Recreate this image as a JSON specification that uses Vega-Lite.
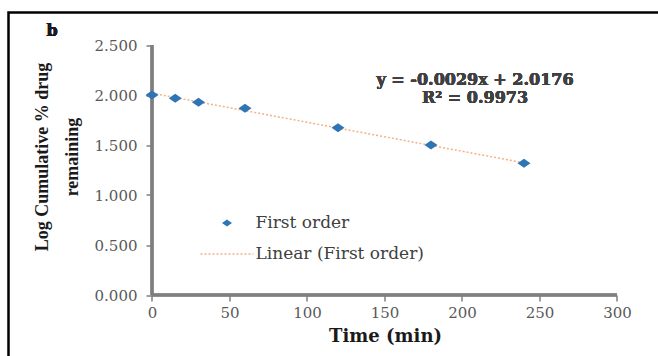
{
  "$schema": "https://vega.github.io/schema/vega-lite/v6.json",
  "width": 660,
  "height": 350,
  "autosize": {"type": "none"},
  "padding": {"left": 8.5, "top": 12.5, "right": 0, "bottom": 0},
  "background": "white",
  "datasets": {
    "release": [
      {"time": 0, "logval": 2.000},
      {"time": 15, "logval": 1.967},
      {"time": 30, "logval": 1.927},
      {"time": 60, "logval": 1.867},
      {"time": 120, "logval": 1.673},
      {"time": 180, "logval": 1.500},
      {"time": 240, "logval": 1.317}
    ],
    "trend": [
      {"time": 0, "logval": 2.0176},
      {"time": 240, "logval": 1.3216}
    ]
  },
  "config": {
    "view": {"stroke": "#000000", "strokeWidth": 2.5},
    "axis": {
      "domain": false,
      "grid": false,
      "ticks": true,
      "tickColor": "#7f7f7f",
      "tickWidth": 1.5,
      "tickSize": 6,
      "labelFont": "DejaVu Serif",
      "labelFontSize": 15,
      "labelColor": "#595959",
      "titleFont": "DejaVu Serif",
      "titleFontWeight": "bold",
      "titleColor": "#1a1a1a"
    },
    "axisX": {
      "offset": -67.5,
      "labelPadding": 4,
      "titleFontSize": 18,
      "titleX": 376.5,
      "titleY": 41,
      "titleBaseline": "middle",
      "titleAlign": "center"
    },
    "axisY": {
      "offset": -143.5,
      "labelPadding": 9,
      "titleFont": "Liberation Serif",
      "titleFontSize": 18,
      "titleX": -110,
      "titleY": 144,
      "titleAlign": "center",
      "titleBaseline": "middle",
      "titleLineHeight": 30
    },
    "legend": {
      "orient": "none",
      "legendX": 211.5,
      "legendY": 202,
      "title": null,
      "padding": 0,
      "labelFont": "DejaVu Serif",
      "labelFontSize": 17,
      "labelColor": "#404040",
      "labelLimit": 0
    }
  },
  "layer": [
    {
      "data": {"name": "release"},
      "mark": {"type": "rule", "color": "#7f7f7f", "strokeWidth": 2.5},
      "encoding": {
        "x": {"datum": 0, "type": "quantitative", "scale": {"domain": [-92.58, 333.23], "nice": false, "zero": false}},
        "y": {"datum": 0, "type": "quantitative", "scale": {"domain": [-0.675, 2.825], "nice": false, "zero": false}},
        "y2": {"datum": 2.5}
      }
    },
    {
      "data": {"name": "release"},
      "mark": {"type": "rule", "color": "#7f7f7f", "strokeWidth": 2.5},
      "encoding": {
        "x": {"datum": 0, "type": "quantitative", "scale": {"domain": [-92.58, 333.23], "nice": false, "zero": false}},
        "x2": {"datum": 300},
        "y": {"datum": 0, "type": "quantitative", "scale": {"domain": [-0.675, 2.825], "nice": false, "zero": false}}
      }
    },
    {
      "data": {"name": "trend"},
      "mark": {"type": "line", "strokeWidth": 1.5, "strokeDash": [2, 2]},
      "encoding": {
        "x": {"field": "time", "type": "quantitative", "scale": {"domain": [-92.58, 333.23], "nice": false, "zero": false}},
        "y": {"field": "logval", "type": "quantitative", "scale": {"domain": [-0.675, 2.825], "nice": false, "zero": false}},
        "color": {
          "datum": "Linear (First order)", "type": "nominal",
          "scale": {"domain": ["First order", "Linear (First order)"], "range": ["#2e75b6", "#f4b183"]},
          "legend": {
            "orient": "none",
            "legendX": 210,
            "legendY": 202,
            "title": null,
            "padding": 0,
            "labelFont": "DejaVu Serif",
            "labelFontSize": 17,
            "labelColor": "#404040",
            "labelOffset": 20,
            "labelLimit": 0,
            "rowPadding": 13,
            "symbolSize": 100,
            "encode": {
              "symbols": {
                "update": {
                  "shape": {"signal": "datum.value === 'First order' ? 'M-1,0L0,-0.7L1,0L0,0.7Z' : 'M-5.3,0L5.3,0'"},
                  "fill": {"signal": "datum.value === 'First order' ? '#2e75b6' : 'transparent'"},
                  "stroke": {"signal": "datum.value === 'First order' ? '#2e75b6' : '#f4b183'"},
                  "strokeDash": {"signal": "datum.value === 'First order' ? [1, 0] : [2, 2]"},
                  "strokeWidth": {"signal": "datum.value === 'First order' ? 0 : 1.5"},
                  "size": {"value": 100},
                  "opacity": {"value": 1}
                }
              }
            }
          }
        }
      }
    },
    {
      "data": {"name": "release"},
      "mark": {"type": "point", "filled": true, "opacity": 1, "shape": "M-1,0L0,-0.7L1,0L0,0.7Z", "size": 169},
      "encoding": {
        "x": {
          "field": "time", "type": "quantitative",
          "scale": {"domain": [-92.58, 333.23], "nice": false, "zero": false},
          "axis": {"values": [0, 50, 100, 150, 200, 250, 300], "title": "Time (min)"}
        },
        "y": {
          "field": "logval", "type": "quantitative",
          "scale": {"domain": [-0.675, 2.825], "nice": false, "zero": false},
          "axis": {"values": [0, 0.5, 1, 1.5, 2, 2.5], "format": ".3f", "title": ["Log Cumulative % drug", "remaining"]}
        },
        "color": {
          "datum": "First order", "type": "nominal",
          "scale": {"domain": ["First order", "Linear (First order)"], "range": ["#2e75b6", "#f4b183"]},
          "legend": {
            "orient": "none",
            "legendX": 210,
            "legendY": 202,
            "title": null,
            "padding": 0,
            "labelFont": "DejaVu Serif",
            "labelFontSize": 17,
            "labelColor": "#404040",
            "labelOffset": 20,
            "labelLimit": 0,
            "rowPadding": 13,
            "symbolSize": 100,
            "encode": {
              "symbols": {
                "update": {
                  "shape": {"signal": "datum.value === 'First order' ? 'M-1,0L0,-0.7L1,0L0,0.7Z' : 'M-5.3,0L5.3,0'"},
                  "fill": {"signal": "datum.value === 'First order' ? '#2e75b6' : 'transparent'"},
                  "stroke": {"signal": "datum.value === 'First order' ? '#2e75b6' : '#f4b183'"},
                  "strokeDash": {"signal": "datum.value === 'First order' ? [1, 0] : [2, 2]"},
                  "strokeWidth": {"signal": "datum.value === 'First order' ? 0 : 1.5"},
                  "size": {"value": 100},
                  "opacity": {"value": 1}
                }
              }
            }
          }
        }
      }
    },
    {
      "data": {"name": "release"},
      "mark": {"type": "text", "font": "DejaVu Serif", "fontWeight": "bold", "fontSize": 16, "color": "#404040", "align": "center", "baseline": "middle", "lineHeight": 18},
      "encoding": {
        "x": {"datum": 208.4, "type": "quantitative", "scale": {"domain": [-92.58, 333.23], "nice": false, "zero": false}},
        "y": {"datum": 2.155, "type": "quantitative", "scale": {"domain": [-0.675, 2.825], "nice": false, "zero": false}},
        "text": {"value": ["y = -0.0029x + 2.0176", "R² = 0.9973"]}
      }
    },
    {
      "data": {"name": "release"},
      "mark": {"type": "text", "font": "DejaVu Serif", "fontWeight": "bold", "fontSize": 16, "color": "#1a1a1a", "align": "center", "baseline": "middle"},
      "encoding": {
        "x": {"datum": -64.5, "type": "quantitative", "scale": {"domain": [-92.58, 333.23], "nice": false, "zero": false}},
        "y": {"datum": 2.64, "type": "quantitative", "scale": {"domain": [-0.675, 2.825], "nice": false, "zero": false}},
        "text": {"value": "b"}
      }
    }
  ]
}
